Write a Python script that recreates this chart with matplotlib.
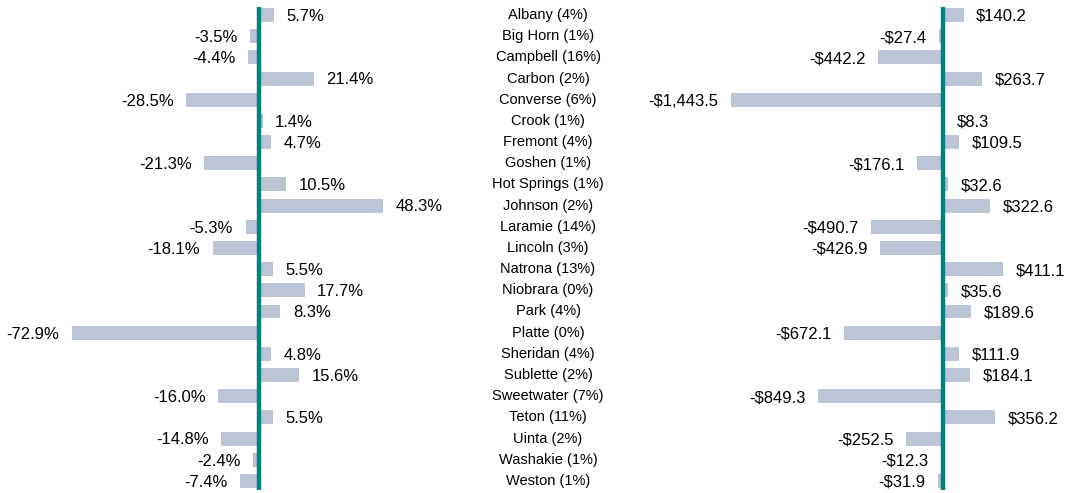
import matplotlib
matplotlib.use('Agg')
import matplotlib.pyplot as plt

counties = ["Albany (4%)", "Big Horn (1%)", "Campbell (16%)", "Carbon (2%)", "Converse (6%)",
            "Crook (1%)", "Fremont (4%)", "Goshen (1%)", "Hot Springs (1%)", "Johnson (2%)",
            "Laramie (14%)", "Lincoln (3%)", "Natrona (13%)", "Niobrara (0%)", "Park (4%)",
            "Platte (0%)", "Sheridan (4%)", "Sublette (2%)", "Sweetwater (7%)", "Teton (11%)",
            "Uinta (2%)", "Washakie (1%)", "Weston (1%)"]
pct_change = [5.7, -3.5, -4.4, 21.4, -28.5, 1.4, 4.7, -21.3, 10.5, 48.3, -5.3, -18.1, 5.5,
              17.7, 8.3, -72.9, 4.8, 15.6, -16.0, 5.5, -14.8, -2.4, -7.4]
dollar_change = [140.2, -27.4, -442.2, 263.7, -1443.5, 8.3, 109.5, -176.1, 32.6, 322.6,
                 -490.7, -426.9, 411.1, 35.6, 189.6, -672.1, 111.9, 184.1, -849.3, 356.2,
                 -252.5, -12.3, -31.9]

BAR = '#bcc5d6'
TEAL = '#00827f'
plt.rcParams['font.family'] = ['Liberation Sans', 'DejaVu Sans']

W, H = 1069, 493
fig = plt.figure(figsize=(W / 100, H / 100), dpi=100)

n = len(counties)
rows = list(range(n))
ylim = (22.57, -0.708)


def panel(px0, px1, xlim, values, fmt):
    ax = fig.add_axes([px0 / W, 0, (px1 - px0) / W, 1])
    ax.barh(rows, values, height=0.66, color=BAR)
    ax.plot([0, 0], [-0.38, 22.42], color=TEAL, lw=3.2, solid_capstyle='butt')
    ax.set_xlim(*xlim)
    ax.set_ylim(*ylim)
    ax.axis('off')
    for i, v in enumerate(values):
        off = 9 if v >= 0 else -9
        ax.annotate(fmt(v), (v, i), xytext=(off, -1), textcoords='offset points',
                    ha='left' if v >= 0 else 'right', va='center', fontsize=12)
    return ax


def fmt_pct(v):
    return f"{v:.1f}%"


def fmt_dollar(v):
    s = f"${abs(v):,.1f}"
    return "-" + s if v < 0 else s


panel(0, 420, (-101.0, 62.7), pct_change, fmt_pct)
panel(620, 1069, (-2197, 857), dollar_change, fmt_dollar)

axc = fig.add_axes([0, 0, 1, 1])
axc.set_xlim(0, W)
axc.set_ylim(*ylim)
axc.axis('off')
for i, name in enumerate(counties):
    axc.text(548, i, name, ha='center', va='center', fontsize=10.5)

fig.savefig('out.png', dpi=100)
